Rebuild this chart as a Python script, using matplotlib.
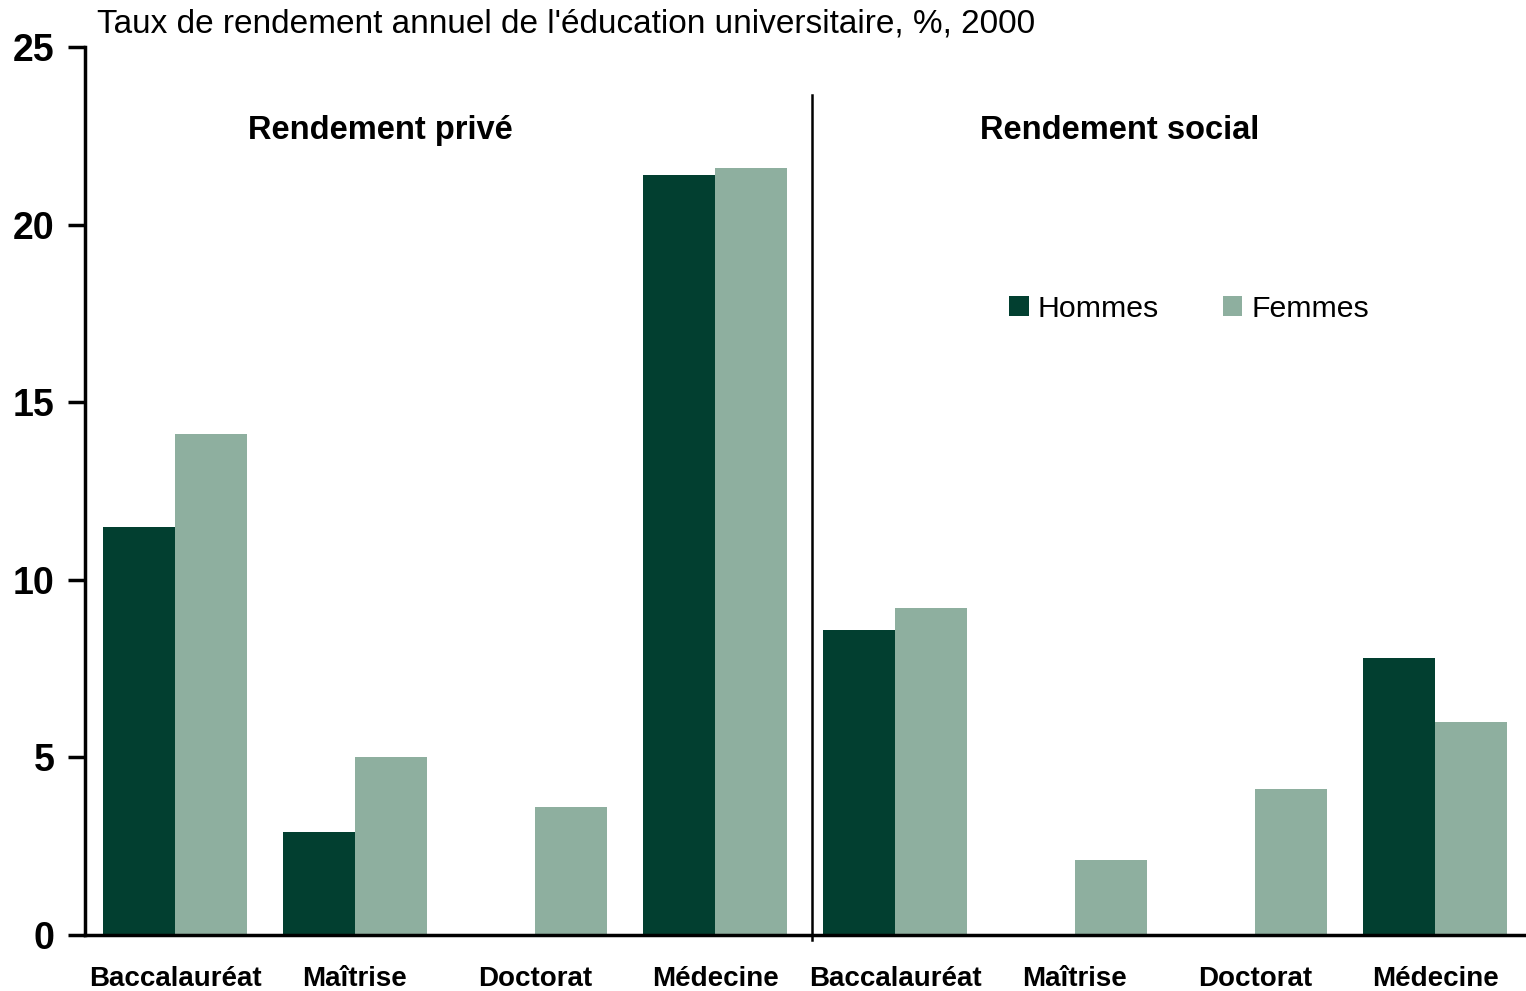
import matplotlib.pyplot as plt
import numpy as np

plt.rcParams['font.family'] = ['Liberation Sans', 'DejaVu Sans']

categories = ['Baccalauréat', 'Maîtrise', 'Doctorat', 'Médecine',
              'Baccalauréat', 'Maîtrise', 'Doctorat', 'Médecine']
hommes = [11.5, 2.9, 0.0, 21.4, 8.6, 0.0, 0.0, 7.8]
femmes = [14.1, 5.0, 3.6, 21.6, 9.2, 2.1, 4.1, 6.0]
panels = ['Rendement privé', 'Rendement social']
title = "Taux de rendement annuel de l'éducation universitaire, %, 2000"

dark = '#023f30'
light = '#8eaf9f'

fig = plt.figure(figsize=(15.26, 9.91), dpi=100)
ax = fig.add_axes([85/1526, 1-935/991, 1440/1526, (935-47)/991])

x = np.arange(len(categories))
w = 0.4
ax.bar(x - w/2, hommes, w, color=dark, label='Hommes')
ax.bar(x + w/2, femmes, w, color=light, label='Femmes')

ax.set_xlim(-0.5, 7.5)
ax.set_ylim(0, 25)
ax.set_yticks([0, 5, 10, 15, 20, 25])
ax.set_xticks(x)
ax.set_xticklabels(categories, fontsize=20, fontweight='bold')
for lab in ax.get_yticklabels():
    lab.set_fontsize(27)
    lab.set_fontweight('bold')
ax.tick_params(axis='y', direction='out', length=12, width=2.5, pad=10)
ax.tick_params(axis='x', length=0, pad=22)

for s in ['top', 'right']:
    ax.spines[s].set_visible(False)
ax.spines['left'].set_linewidth(2.5)
ax.spines['bottom'].set_linewidth(2.5)

# separator between the two panels
ax.plot([3.54, 3.54], [-0.15, 23.65], color='black', lw=1.8, clip_on=False)

ax.text(1.14, 22.65, panels[0], fontsize=23.5, fontweight='bold', ha='center', va='center')
ax.text(5.25, 22.65, panels[1], fontsize=23.5, fontweight='bold', ha='center', va='center')

fig.text(97/1526, 1-24/991, title, fontsize=24, va='center', ha='left')

ax.legend(loc='center left', bbox_to_anchor=(997/1526, 1-309/991),
          bbox_transform=fig.transFigure, ncol=2, frameon=False,
          fontsize=21.8, handlelength=0.65, handleheight=0.65,
          handletextpad=0.3, columnspacing=2.1, borderaxespad=0)

fig.savefig('out.png', dpi=100)
